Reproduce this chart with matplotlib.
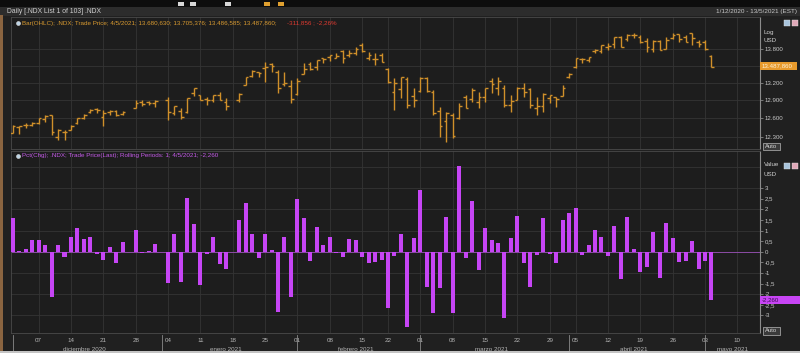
import numpy as np
import pandas as pd
import matplotlib
matplotlib.use("Agg")
import matplotlib.pyplot as plt
from matplotlib.patches import Rectangle
from matplotlib.lines import Line2D
import matplotlib.transforms as mtransforms

plt.rcParams['font.family'] = ['Liberation Sans', 'DejaVu Sans']

# ---------------- data ----------------
# chart slots: weekdays, Feb 15 and Apr 2 not shown; holidays Dec 25, Jan 1, Jan 18 shown empty
skipped_days = ["2021-02-15", "2021-04-02"]
axis_start, data_end, axis_end = "2020-12-01", "2021-05-04", "2021-05-14"

opens = [
    12360, 12450, 12490, 12495, 12530, 12580, 12650, 12300, 12380, 12410, 12520, 12610, 12700, 12760, 12620, 12700, 12720, 12670, None, 12780, 12880, 12870, 12850,
    None, 12900, 12690, 12720, 12700, 13030, 12990, 12920, 12900, 12990, 12880, None, 12900, 13170, 13330, 13390, 13460, 13540, 13400, 13180, 13150,
    13010, 13360, 13530, 13480, 13640, 13660, 13650, 13760, 13700, 13730, 13880, 13650, 13630, 13690, 13450, 13040, 13100, 13270, 12980,
    13060, 13290, 13050, 12720, 12560, 12660, 12600, 12960, 12930, 12880, 12960, 13240, 13120, 13120, 12830, 12910, 13110, 13100, 12780, 12800, 12950, 12960, 12980,
    13300, 13480, 13620, 13610, 13760, 13760, 13850, 13890, 14030, 13990, 14070, 14030, 13960, 13800, 13960, 13810, 14000, 14080, 14020, 14094, 13940,
    13930, 13680.630]
highs = [
    12490, 12480, 12525, 12535, 12610, 12650, 12660, 12420, 12410, 12490, 12610, 12670, 12760, 12780, 12740, 12740, 12740, 12715, None, 12900, 12905, 12890, 12900,
    None, 12960, 12800, 12770, 12950, 13110, 13000, 12960, 12995, 13050, 12940, None, 13020, 13310, 13430, 13400, 13575, 13550, 13430, 13400, 13250,
    13280, 13545, 13575, 13615, 13640, 13697, 13727, 13787, 13787, 13848, 13909, 13757, 13727, 13727, 13458, 13282, 13312, 13312, 13109,
    13300, 13312, 13080, 12795, 12711, 12684, 12852, 12994, 13109, 13051, 13109, 13282, 13312, 13166, 12994, 13138, 13195, 13109, 12966, 13023, 13000, 12966, 13166,
    13370, 13637, 13637, 13667, 13797, 13879, 13909, 14032, 14040, 14081, 14095, 14063, 14001, 13970, 13970, 14032, 14094, 14085, 14063, 14094, 13970,
    13970, 13705.376]
lows = [
    12350, 12340, 12440, 12470, 12510, 12540, 12320, 12250, 12240, 12400, 12500, 12580, 12690, 12680, 12470, 12660, 12640, 12650, None, 12770, 12800, 12830, 12790,
    None, 12570, 12660, 12580, 12690, 12970, 12900, 12830, 12880, 12900, 12740, None, 12880, 13160, 13310, 13310, 13220, 13400, 13030, 13140, 12850,
    12990, 13350, 13430, 13430, 13550, 13580, 13640, 13550, 13667, 13697, 13757, 13607, 13518, 13577, 13195, 12740, 12937, 12767, 12795,
    13051, 13051, 12656, 12300, 12219, 12273, 12590, 12767, 12880, 12767, 12880, 13023, 12994, 12795, 12712, 12908, 12966, 12767, 12656, 12712, 12852, 12795, 12970,
    13282, 13458, 13548, 13577, 13727, 13727, 13787, 13818, 13840, 13960, 14000, 13909, 13757, 13757, 13780, 13800, 13980, 13940, 13930, 13880, 13848,
    13790, 13486.585]
closes = [
    12470, 12476, 12490, 12530, 12600, 12640, 12370, 12410, 12380, 12470, 12600, 12660, 12745, 12735, 12690, 12715, 12650, 12710, None, 12850, 12845, 12850, 12888,
    None, 12698, 12800, 12620, 12940, 13105, 12910, 12900, 12985, 12910, 12808, None, 13003, 13303, 13412, 13370, 13485, 13496, 13114, 13203, 12923,
    13243, 13451, 13440, 13599, 13630, 13690, 13683, 13646, 13728, 13804, 13771, 13695, 13631, 13578, 13221, 13195, 13303, 12828, 12913,
    13289, 13070, 12694, 12474, 12680, 12311, 12808, 12768, 13073, 12961, 13107, 13179, 13230, 12815, 12896, 13115, 13043, 12828, 12808, 13009, 12995, 12927, 13120,
    13361, 13634, 13616, 13658, 13785, 13870, 13851, 14019, 13850, 14065, 14060, 13940, 13840, 13960, 13790, 13975, 14060, 13990, 13935, 14005, 13895,
    13800, 13487.860]
pct_change = [
    1.57, 0.05, 0.11, 0.55, 0.55, 0.31, -2.15, 0.31, -0.24, 0.71, 1.10, 0.58, 0.68, -0.11, -0.39, 0.24, -0.52, 0.47, None, 1.02, -0.05, 0.03, 0.36,
    None, -1.49, 0.86, -1.42, 2.52, 1.30, -1.57, -0.10, 0.68, -0.58, -0.79, None, 1.52, 2.31, 0.82, -0.31, 0.86, 0.08, -2.83, 0.68, -2.12,
    2.48, 1.57, -0.42, 1.18, 0.31, 0.68, -0.05, -0.27, 0.60, 0.55, -0.24, -0.55, -0.47, -0.39, -2.63, -0.20, 0.82, -3.57, 0.66,
    2.91, -1.65, -2.88, -1.73, 1.65, -2.91, 4.04, -0.31, 2.39, -0.86, 1.13, 0.55, 0.39, -3.14, 0.63, 1.70, -0.55, -1.65, -0.16, 1.57, -0.11, -0.52, 1.49,
    1.84, 2.04, -0.13, 0.31, 1.02, 0.68, -0.20, 1.21, -1.30, 1.65, 0.14, -0.97, -0.74, 0.94, -1.26, 1.34, 0.63, -0.50, -0.42, 0.52, -0.79,
    -0.42, -2.26]

price_ticks = [12300, 12600, 12900, 13200, 13800]
price_tick_labels = ["12.300", "12.600", "12.900", "13.200", "13.800"]
price_grid = [12300, 12600, 12900, 13200, 13500, 13800]
pct_ticks = [3, 2.5, 2, 1.5, 1, 0.5, 0, -0.5, -1, -1.5, -2, -2.5, -3]
pct_tick_labels = ["3", "2,5", "2", "1,5", "1", "0,5", "0", "-0,5", "-1", "-1,5", "-2", "-2,5", "-3"]
pct_grid = [-3, -2, -1, 0, 1, 2, 3, 4]
month_names = {12: "diciembre", 1: "enero", 2: "febrero", 3: "marzo", 4: "abril", 5: "mayo"}

# ---------------- slots ----------------
skip = set(pd.to_datetime(skipped_days))
ext_dates = [d for d in pd.bdate_range(axis_start, axis_end) if d not in skip]
n = len(opens)
x = np.arange(n)
O = np.array(opens, dtype=float)
H = np.array(highs, dtype=float)
L = np.array(lows, dtype=float)
C = np.array(closes, dtype=float)
P = np.array(pct_change, dtype=float)
XMIN, XMAX = -0.27, 115.5

def first_slot(date):
    date = pd.Timestamp(date)
    for i, d in enumerate(ext_dates):
        if d >= date:
            return i
    return len(ext_dates)

mondays = pd.date_range("2020-12-07", "2021-05-10", freq="W-MON")
week_pos = [first_slot(m) for m in mondays]
week_lab = [f"{m.day:02d}" for m in mondays]
month_starts = pd.date_range("2020-12-01", "2021-05-01", freq="MS")
month_pos = [first_slot(m) for m in month_starts]

# ---------------- figure ----------------
W, Hpx = 800, 353
BG = "#202020"
FS = 4.5
fig = plt.figure(figsize=(W / 100, Hpx / 100), dpi=100, facecolor=BG)

def fx(px):
    return px / W

def fy(py):
    return 1 - py / Hpx

# top toolbar & title band
fig.add_artist(Rectangle((0, fy(7)), 1, 7 / Hpx, transform=fig.transFigure, fc="#0d0d0d", ec="none"))
fig.add_artist(Rectangle((0, fy(16)), 1, 9 / Hpx, transform=fig.transFigure, fc="#2c2c2c", ec="none"))
for (bx, bc) in [(178, "#d8d8d8"), (190, "#d8d8d8"), (225, "#d8d8d8"), (264, "#e0a030"), (278, "#e0a030")]:
    fig.add_artist(Rectangle((fx(bx), fy(6)), 6 / W, 4 / Hpx, transform=fig.transFigure, fc=bc, ec="none"))
fig.add_artist(Rectangle((0, fy(351)), 3 / W, 336 / Hpx, transform=fig.transFigure, fc="#8a6440", ec="none"))
fig.add_artist(Rectangle((0, 0), 1, 2.5 / Hpx, transform=fig.transFigure, fc="#c4c4c4", ec="none"))
fig.text(fx(7), fy(11.5), "Daily [.NDX List 1 of 103] .NDX", fontsize=4.9, color="#d0d0d0", va="center", ha="left")
fig.text(fx(797), fy(11.5), "1/12/2020 - 13/5/2021 (EST)", fontsize=4.6, color="#c8c8c8", va="center", ha="right")

ax1 = fig.add_axes([fx(11), fy(149), 749 / W, 132 / Hpx])
ax2 = fig.add_axes([fx(11), fy(333), 749 / W, 182 / Hpx])
GRID = "#343434"
for ax in (ax1, ax2):
    ax.set_facecolor("#1d1d1d")
    ax.set_xlim(XMIN, XMAX)
    for s in ("left", "top", "bottom"):
        ax.spines[s].set_color("#4a4a4a")
        ax.spines[s].set_linewidth(0.6)
    ax.spines["right"].set_color("#8c8c8c")
    ax.spines["right"].set_linewidth(0.8)
    ax.yaxis.tick_right()
    ax.tick_params(axis="y", which="major", direction="out", length=2, width=0.5,
                   color="#9a9a9a", labelsize=4.4, labelcolor="#c8c8c8", pad=1.5)
    ax.tick_params(axis="y", which="minor", length=0)
    for wp in week_pos:
        ax.axvline(wp, color=GRID, lw=0.6, zorder=0)

# ---- top: OHLC ----
ax1.set_yscale("log")
ax1.set_ylim(12100, 14400)
ax1.yaxis.set_major_locator(matplotlib.ticker.FixedLocator(price_ticks))
ax1.yaxis.set_major_formatter(matplotlib.ticker.FixedFormatter(price_tick_labels))
ax1.yaxis.set_minor_locator(matplotlib.ticker.NullLocator())
ax1.tick_params(axis="x", length=0, labelbottom=False)
for g in price_grid:
    ax1.axhline(g, color=GRID, lw=0.6, zorder=0)
ok = ~np.isnan(C)
OC = "#d0902a"
ax1.vlines(x[ok], L[ok], H[ok], color=OC, lw=1.0, zorder=3)
ax1.hlines(O[ok], x[ok] - 0.42, x[ok], color=OC, lw=1.0, zorder=3)
ax1.hlines(C[ok], x[ok], x[ok] + 0.42, color=OC, lw=1.0, zorder=3)

# ---- bottom: pct change ----
ax2.set_ylim(-3.83, 4.75)
ax2.set_yticks(pct_ticks)
ax2.set_yticklabels(pct_tick_labels)
for g in pct_grid:
    ax2.axhline(g, color=GRID, lw=0.6, zorder=0)
ax2.axhline(0, color="#9a50b8", lw=0.6, zorder=1)
okp = ~np.isnan(P)
ax2.bar(x[okp], P[okp], width=0.62, color="#c645f5", zorder=3)
ax2.set_xticks(week_pos)
ax2.set_xticklabels(week_lab)
ax2.tick_params(axis="x", length=0, labelsize=FS, labelcolor="#b4b4b4", pad=3.4)
tr = mtransforms.blended_transform_factory(ax2.transData, ax2.transAxes)
for i, (ms, mp) in enumerate(zip(month_starts, month_pos)):
    end = month_pos[i + 1] - 1 if i + 1 < len(month_pos) else XMAX
    cx = (mp + end) / 2
    ax2.text(cx, -0.088, f"{month_names[ms.month]} {ms.year}", transform=tr, fontsize=FS,
             color="#b4b4b4", ha="center", va="center", clip_on=False)
    ax2.add_line(Line2D([mp, mp], [-0.012, -0.1], transform=tr, color="#8a8a8a", lw=0.6, clip_on=False))

# ---- legends ----
for py in (23, 156):
    fig.add_artist(Line2D([fx(18)], [fy(py)], marker="o", ms=2.8, mfc="#bcd4e6", mec="#e8e8e8",
                          mew=0.4, transform=fig.transFigure))
fig.text(fx(22), fy(23), "Bar(OHLC); .NDX; Trade Price; 4/5/2021; 13.680,630; 13.705,376; 13.486,585; 13.487,860; ",
         fontsize=FS, color="#d89a30", va="center", ha="left")
fig.text(fx(287), fy(23), "-311,856 ; -2,26%", fontsize=FS, color="#e03a30", va="center", ha="left")
fig.text(fx(22), fy(156), "Pct(Chg); .NDX; Trade Price(Last); Rolling Periods: 1; 4/5/2021; -2,260",
         fontsize=FS, color="#c45ae8", va="center", ha="left")

# ---- right axis decorations ----
fig.text(fx(764), fy(32.5), "Log", fontsize=FS, color="#d0d0d0", va="center", ha="left")
fig.text(fx(764), fy(40.5), "USD", fontsize=FS, color="#d0d0d0", va="center", ha="left")
fig.text(fx(764), fy(165), "Value", fontsize=FS, color="#d0d0d0", va="center", ha="left")
fig.text(fx(764), fy(174), "USD", fontsize=FS, color="#d0d0d0", va="center", ha="left")
for yb in (20, 163):
    fig.add_artist(Rectangle((fx(784), fy(yb + 6)), 6 / W, 6 / Hpx, transform=fig.transFigure, fc="#a8c4dc", ec="#e0e0e0", lw=0.3))
    fig.add_artist(Rectangle((fx(791.5), fy(yb + 6)), 6 / W, 6 / Hpx, transform=fig.transFigure, fc="#e0a8b8", ec="#e0e0e0", lw=0.3))
for (ya, yb2) in [(143, 150), (327, 335)]:
    fig.add_artist(Rectangle((fx(763), fy(yb2)), 17 / W, (yb2 - ya) / Hpx, transform=fig.transFigure,
                             fc="#3a3a3a", ec="#b8b8b8", lw=0.5))
    fig.text(fx(771.5), fy((ya + yb2) / 2), "Auto", fontsize=4.2, color="#d8d8d8", va="center", ha="center")

# current-value boxes
fig.add_artist(Rectangle((fx(760), fy(70)), 37 / W, 8 / Hpx, transform=fig.transFigure, fc="#e89a2c", ec="none"))
fig.text(fx(762), fy(66), "13.487,860", fontsize=4.4, color="#fff2d8", va="center", ha="left")
fig.add_artist(Rectangle((fx(760), fy(304)), 40 / W, 8.5 / Hpx, transform=fig.transFigure, fc="#c845f5", ec="none"))
fig.text(fx(762), fy(299.8), "-2,260", fontsize=4.4, color="#3a0a50", va="center", ha="left")

fig.savefig("out.png", dpi=100, facecolor=BG)
